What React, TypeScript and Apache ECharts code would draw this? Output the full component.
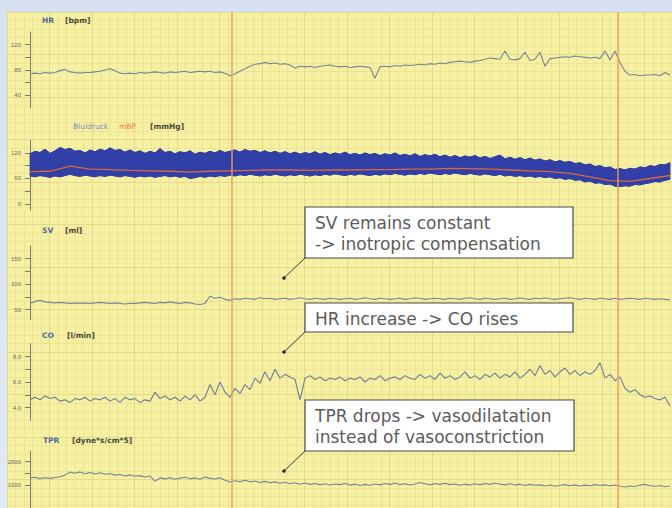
import React, { useEffect, useRef } from "react";
import * as echarts from "echarts";

// ---- time base ----
const STEP = 5; // seconds between samples
const MBP_STEP = 20;
const T_MAX = 642;
const EVENTS = [202, 588]; // orange event markers (s)

// ---- data (read from the recording) ----
const HR = [
  74, 75, 74, 76, 75, 76, 79, 81, 77, 76, 75, 76,
  76, 77, 78, 80, 82, 79, 75, 74, 75, 74, 76, 75,
  76, 77, 76, 75, 77, 76, 77, 78, 76, 77, 78, 77,
  78, 76, 77, 75, 71, 74, 78, 82, 86, 89, 90, 92,
  90, 91, 89, 90, 88, 83, 86, 85, 86, 84, 86, 87,
  88, 86, 85, 86, 84, 85, 86, 85, 84, 67, 85, 86,
  85, 87, 86, 88, 87, 88, 89, 88, 90, 89, 91, 90,
  92, 93, 94, 93, 92, 94, 95, 97, 99, 98, 97, 110,
  97, 96, 98, 108, 95, 97, 108, 86, 98, 99, 100, 101,
  100, 102, 101, 100, 99, 100, 98, 110, 96, 110, 92, 78,
  72, 73, 71, 72, 72, 73, 71, 76, 72,
];

const BP_SYS = [
  118, 124, 121, 129, 119, 125, 133, 128, 131, 124, 126, 120,
  127, 123, 129, 125, 132, 126, 128, 122, 127, 121, 125, 119,
  124, 120, 130, 121, 124, 118, 123, 120, 125, 117, 122, 119,
  124, 120, 126, 121, 124, 127, 122, 128, 124, 126, 121, 125,
  120, 124, 119, 123, 118, 122, 117, 121, 118, 123, 117, 121,
  116, 120, 117, 122, 116, 119, 115, 120, 116, 119, 114, 118,
  115, 120, 114, 117, 113, 118, 112, 116, 113, 117, 111, 115,
  110, 114, 109, 113, 110, 114, 108, 112, 107, 111, 115, 106,
  110, 105, 109, 104, 108, 103, 106, 101, 104, 99, 102, 98,
  100, 95, 97, 92, 94, 88, 90, 85, 87, 81, 83, 80,
  84, 82, 87, 85, 90, 88, 93, 92, 97,
];

const BP_DIA = [
  66, 64, 67, 65, 63, 66, 64, 67, 70, 67, 65, 68,
  66, 64, 67, 65, 68, 66, 64, 67, 65, 63, 66, 64,
  66, 63, 65, 67, 64, 66, 63, 65, 60, 62, 65, 63,
  66, 64, 67, 65, 68, 66, 69, 67, 70, 68, 66, 69,
  67, 70, 68, 66, 69, 67, 70, 68, 66, 69, 67, 70,
  68, 71, 69, 67, 70, 68, 71, 69, 67, 70, 68, 71,
  69, 72, 70, 68, 71, 69, 72, 70, 73, 71, 69, 72,
  70, 73, 71, 69, 72, 70, 68, 71, 69, 67, 70, 66,
  68, 65, 67, 64, 66, 63, 65, 62, 64, 60, 62, 58,
  60, 56, 57, 52, 54, 49, 50, 46, 47, 42, 41, 43,
  42, 46, 45, 48, 50, 53, 52, 56, 58,
];

const MBP = [
  76, 77, 89, 82, 81, 79, 78, 77, 75, 77, 78, 79, 80, 80, 79, 80, 80,
  81, 81, 82, 82, 84, 83, 82, 80, 78, 76, 72, 64, 55, 53, 60, 67,
];

const SV = [
  62, 66, 68, 65, 64, 63, 64, 63, 62, 63, 62, 63,
  62, 63, 64, 63, 62, 63, 62, 61, 62, 62, 63, 64,
  63, 62, 64, 63, 65, 63, 62, 64, 63, 61, 60, 62,
  76, 72, 74, 70, 68, 71, 70, 72, 71, 70, 73, 71,
  72, 70, 71, 72, 70, 71, 73, 71, 70, 72, 71, 70,
  72, 71, 70, 71, 72, 70, 71, 73, 71, 70, 72, 71,
  70, 71, 72, 70, 71, 73, 72, 70, 71, 72, 71, 70,
  72, 71, 70, 72, 73, 71, 70, 72, 71, 70, 71, 72,
  70, 71, 73, 71, 70, 72, 71, 73, 71, 70, 71, 72,
  73, 71, 70, 72, 71, 70, 72, 71, 70, 72, 70, 71,
  72, 71, 70, 72, 71, 70, 71, 70, 69,
];

const CO = [
  4.6, 4.8, 4.6, 4.9, 4.7, 4.8, 4.5, 4.6, 4.4, 4.7, 4.6, 4.8,
  4.5, 4.7, 4.6, 4.8, 4.5, 4.7, 4.4, 4.8, 4.6, 4.7, 4.4, 4.6,
  4.5, 5.2, 4.7, 4.9, 4.6, 4.8, 4.5, 4.9, 4.6, 5.0, 4.5, 4.8,
  5.8, 5.0, 6.0, 5.2, 4.8, 5.5, 5.1, 5.8, 5.4, 6.3, 5.9, 6.8,
  6.1, 7.0, 6.3, 6.6, 6.4, 6.2, 4.6, 6.3, 6.5, 6.2, 6.4, 6.1,
  6.3, 6.2, 6.4, 6.1, 6.3, 6.2, 6.4, 6.0, 6.3, 6.2, 6.5, 6.1,
  6.3, 6.4, 6.2, 6.5, 6.3, 6.2, 6.6, 6.3, 6.5, 6.2, 6.7, 6.3,
  6.5, 6.2, 6.4, 6.8, 6.3, 6.5, 6.2, 6.6, 6.4, 6.7, 6.3, 6.6,
  6.4, 6.8, 6.3, 6.6, 7.0, 6.5, 7.3, 6.6, 6.9, 6.4, 6.8, 7.1,
  6.6, 6.9, 6.5, 6.8, 6.6, 6.9, 7.5, 6.3, 6.6, 6.1, 6.4, 5.5,
  5.2, 5.4, 5.0, 4.8, 4.9, 4.7, 4.6, 4.8, 4.1,
];

const TPR = [
  1290, 1330, 1270, 1310, 1280, 1320, 1350, 1420, 1550, 1500, 1560, 1480,
  1530, 1470, 1520, 1460, 1490, 1420, 1450, 1380, 1430, 1370, 1400, 1340,
  1380, 1160, 1300, 1260, 1310, 1240, 1290, 1330, 1260, 1300, 1240, 1340,
  1280, 1250, 1310, 1200, 1120, 1180, 1140, 1200, 1130, 1170, 1100, 1150,
  1090, 1130, 1070, 1110, 1050, 1090, 1030, 1080, 1020, 1060, 1000, 1050,
  990, 1040, 1010, 1060, 990, 1030, 970, 1020, 980, 1040, 1000, 1060,
  1020, 1080, 1010, 1050, 990, 1040, 1100, 1050, 1000, 1060, 1020, 1070,
  1010, 1040, 980, 1030, 990, 1050, 1000, 1060, 1020, 1080, 1030, 1000,
  1050, 990, 1030, 970, 1020, 980, 1000, 950, 990, 940, 980, 1010,
  960, 1000, 950, 990, 960, 1010, 970, 1000, 960, 990, 940, 910,
  950, 930, 990, 1020, 960, 940, 970, 920, 950,
];

// ---- axis ticks / labels ----
const HR_TICKS = [40, 60, 80, 100, 120];
const HR_LABELS = [40, 80, 120];
const BP_TICKS = [0, 30, 60, 90, 120];
const BP_LABELS = [0, 60, 120];
const SV_TICKS = [50, 75, 100, 125, 150];
const SV_LABELS = [50, 100, 150];
const CO_TICKS = [4, 5, 6, 7, 8];
const CO_LABELS = [4, 6, 8];
const TPR_TICKS = [1000, 1500, 2000];
const TPR_LABELS = [1000, 2000];

// ---- annotations ----
const NOTES = [
  ["SV remains constant", "-> inotropic compensation"],
  ["HR increase -> CO rises"],
  ["TPR drops -> vasodilatation", "instead of vasoconstriction"],
];

const TRACE = "#7d8494";
const AXIS = "#7a7a6e";
const PAPER = "#f5f0a2";
const BP_BLUE = "#3140a6";

const pairs = (arr: number[], step: number) => arr.map((v, i) => [i * step, v]);

export default function App() {
  const ref = useRef<HTMLDivElement>(null);

  useEffect(() => {
    if (!ref.current) return;
    const chart = echarts.init(ref.current, undefined, { renderer: "svg" });

    const panels = [
      { top: 32, height: 76, min: 20, max: 140, ticks: HR_TICKS, labels: HR_LABELS, fmt: (v: number) => String(v) },
      { top: 140.25, height: 70.1, min: -15, max: 150, ticks: BP_TICKS, labels: BP_LABELS, fmt: (v: number) => String(v) },
      { top: 245.75, height: 74, min: 30, max: 175, ticks: SV_TICKS, labels: SV_LABELS, fmt: (v: number) => String(v) },
      { top: 343.75, height: 76.5, min: 3, max: 9, ticks: CO_TICKS, labels: CO_LABELS, fmt: (v: number) => v.toFixed(1) },
      { top: 451.3, height: 63.7, min: 0, max: 2450, ticks: TPR_TICKS, labels: TPR_LABELS, fmt: (v: number) => String(v) },
    ];

    const grids: any[] = [
      { left: 7, top: 12, right: 0, bottom: 0, show: true, backgroundColor: PAPER, borderWidth: 0 },
      ...panels.map((p) => ({ left: 30, right: 0, top: p.top, height: p.height })),
    ];

    const xAxes: any[] = [
      { gridIndex: 0, type: "value", min: -23, max: T_MAX, show: false },
      {
        gridIndex: 0, type: "value", min: 0, max: 665, interval: 42.5, position: "top",
        axisLine: { show: false }, axisTick: { show: false }, axisLabel: { show: false },
        splitLine: { show: true, lineStyle: { color: "#e2d98d", width: 1 } },
        minorTick: { show: false, splitNumber: 5 },
        minorSplitLine: { show: true, lineStyle: { color: "#ebe396", width: 1 } },
      },
      ...panels.map((_, i) => ({ gridIndex: i + 1, type: "value", min: 0, max: T_MAX, show: false })),
    ];

    const yAxes: any[] = [
      {
        gridIndex: 0, type: "value", min: 0, max: 496, interval: 42.5, inverse: true,
        axisLine: { show: false }, axisTick: { show: false }, axisLabel: { show: false },
        splitLine: { show: true, lineStyle: { color: "#e2d98d", width: 1 } },
        minorTick: { show: false, splitNumber: 5 },
        minorSplitLine: { show: true, lineStyle: { color: "#ebe396", width: 1 } },
      },
      ...panels.map((p, i) => ({
        gridIndex: i + 1, type: "value", min: p.min, max: p.max,
        axisLine: { show: true, onZero: false, lineStyle: { color: AXIS, width: 1 } },
        axisTick: { show: true, customValues: p.ticks, length: 5, lineStyle: { color: AXIS } },
        axisLabel: {
          show: true, customValues: p.labels, fontSize: 6, color: "#6b6b60", margin: 9,
          fontFamily: "Liberation Sans", formatter: p.fmt,
        },
        splitLine: { show: false },
      })),
    ];

    const line = (xi: number, yi: number, data: number[][], color: string, width = 1.1) => ({
      type: "line", xAxisIndex: xi, yAxisIndex: yi, data, symbol: "none", silent: true,
      lineStyle: { color, width },
    });

    const bandSeries = {
      type: "custom",
      xAxisIndex: 3,
      yAxisIndex: 2,
      silent: true,
      data: BP_SYS.map((v, i) => [i * STEP, BP_DIA[i], v]),
      encode: { x: 0, y: [1, 2] },
      renderItem: (params: any, api: any) => {
        const i = params.dataIndex;
        if (i >= BP_SYS.length - 1) return null;
        const t0 = i * STEP;
        const t1 = (i + 1) * STEP;
        const pts = [
          api.coord([t0, BP_SYS[i]]),
          api.coord([t1, BP_SYS[i + 1]]),
          api.coord([t1, BP_DIA[i + 1]]),
          api.coord([t0, BP_DIA[i]]),
        ];
        return {
          type: "polygon",
          shape: { points: pts },
          style: { fill: BP_BLUE, stroke: BP_BLUE, lineWidth: 0.8 },
        };
      },
    };

    const series: any[] = [
      {
        type: "line", xAxisIndex: 0, yAxisIndex: 0, data: [[-23, 0]], symbol: "none", silent: true,
        lineStyle: { opacity: 0 },
        markLine: {
          silent: true, symbol: ["none", "none"], label: { show: false },
          lineStyle: { color: "#f09a5c", width: 1.5, type: "solid", opacity: 0.9 },
          data: EVENTS.map((t) => ({ xAxis: t })),
        },
      },
      line(2, 1, pairs(HR, STEP), TRACE),
      bandSeries,
      line(3, 2, pairs(BP_SYS, STEP), BP_BLUE, 1),
      line(3, 2, pairs(BP_DIA, STEP), BP_BLUE, 1),
      line(3, 2, pairs(MBP, MBP_STEP), "#d9663e", 1.3),
      line(4, 3, pairs(SV, STEP), TRACE),
      line(5, 4, pairs(CO, STEP), "#737b96"),
      line(6, 5, pairs(TPR, STEP), TRACE),
    ];

    const tt = (x: number, y: number, text: string, fill: string, bold = true) => ({
      type: "text", x, y, z: 50,
      style: {
        text, fill, fontSize: 7.5, fontFamily: "DejaVu Sans", fontWeight: bold ? "bold" : "normal",
        verticalAlign: "middle", align: "left",
      },
    });

    const titleBlue = "#4f6a9e";
    const unitCol = "#4a4838";
    const titles = [
      tt(42, 20, "HR", titleBlue), tt(65, 20, "[bpm]", unitCol),
      tt(73, 126, "Bluldruck", "#7f88c2", false), tt(119, 126, "mBP", "#f07c40", false), tt(150, 126, "[mmHg]", unitCol),
      tt(42, 230, "SV", titleBlue), tt(65, 230, "[ml]", unitCol),
      tt(42, 335, "CO", titleBlue), tt(67, 335, "[l/min]", unitCol),
      tt(43, 440, "TPR", titleBlue), tt(72, 440, "[dyne*s/cm*5]", unitCol),
    ];

    const boxes = [
      { x: 305, y: 207, w: 268, h: 51 },
      { x: 305, y: 303, w: 268, h: 29 },
      { x: 305, y: 400, w: 269, h: 51 },
    ];
    const notes: any[] = [];
    boxes.forEach((b, i) => {
      const bottom = b.y + b.h;
      notes.push({
        type: "line", z: 60,
        shape: { x1: b.x, y1: bottom, x2: b.x - 21, y2: bottom + 20 },
        style: { stroke: "#3a3a3a", lineWidth: 1 },
      });
      notes.push({
        type: "circle", z: 61, shape: { cx: b.x - 21, cy: bottom + 20, r: 1.8 },
        style: { fill: "#2a2a2a" },
      });
      notes.push({
        type: "rect", z: 62, shape: { x: b.x, y: b.y, width: b.w, height: b.h },
        style: { fill: "#ffffff", stroke: "#4a4a4a", lineWidth: 1.2 },
      });
      NOTES[i].forEach((txt, j) => {
        notes.push({
          type: "text", z: 63, x: b.x + 10, y: b.y + 16 + j * 21,
          style: {
            text: txt, fill: "#5b5b5b", fontSize: 17, fontFamily: "DejaVu Sans",
            verticalAlign: "middle", align: "left",
          },
        });
      });
    });

    chart.setOption({
      animation: false,
      backgroundColor: "transparent",
      grid: grids,
      xAxis: xAxes,
      yAxis: yAxes,
      series,
      graphic: [...titles, ...notes],
    });

    return () => chart.dispose();
  }, []);

  return (
    <div style={{ position: "fixed", left: 0, top: 0, width: 672, height: 508, background: "linear-gradient(#d6e0ee, #e1e9f4)" }}>
      <div ref={ref} style={{ width: 672, height: 508 }} />
    </div>
  );
}
